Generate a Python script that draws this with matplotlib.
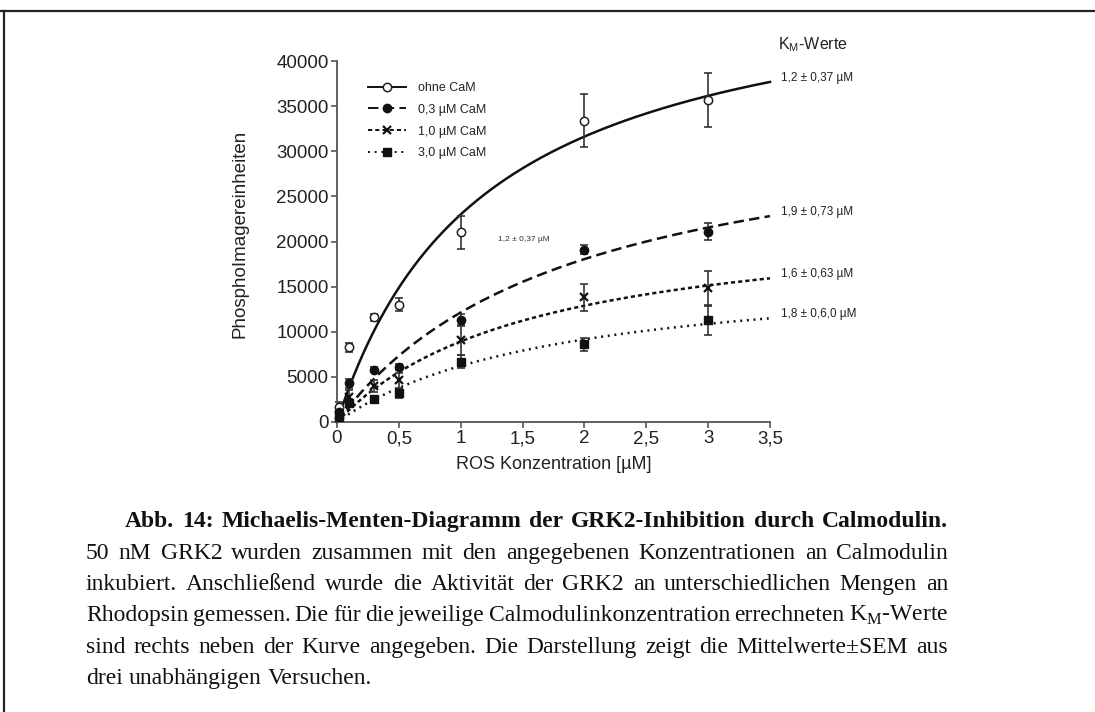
import matplotlib
matplotlib.use("Agg")
import matplotlib.pyplot as plt
import numpy as np
from matplotlib.lines import Line2D

plt.rcParams['font.family'] = ['Liberation Sans', 'DejaVu Sans']
plt.rcParams['lines.scale_dashes'] = False

W, H = 1095, 712

# ---------------- data ----------------
conc = [0.02, 0.1, 0.3, 0.5, 1.0, 2.0, 3.0]

ohne_cam = [1700, 8300, 11600, 13000, 21000, 33400, 35700]
ohne_err = [500, 500, 400, 700, 1800, 2950, 3000]

cam_03 = [1100, 4300, 5800, 6100, 11300, 19100, 21100]
cam_03_err = [400, 500, 300, 300, 700, 500, 900]

cam_10 = [800, 2800, 4000, 4600, 9100, 13800, 14800]
cam_10_err = [300, 800, 700, 800, 1700, 1500, 1900]

cam_30 = [500, 2100, 2600, 3200, 6700, 8600, 11300]
cam_30_err = [300, 400, 300, 500, 700, 700, 1650]

# Michaelis-Menten fit parameters
fit_km = [1.2, 1.9, 1.6, 1.8]
fit_vmax = [50600, 35200, 23200, 17400]

series_labels = ['ohne CaM', '0,3 µM CaM', '1,0 µM CaM', '3,0 µM CaM']
km_labels = ['1,2 ± 0,37 µM', '1,9 ± 0,73 µM', '1,6 ± 0,63 µM', '1,8 ± 0,6,0 µM']

xticks = [0, 0.5, 1, 1.5, 2, 2.5, 3, 3.5]
xticklabels = ['0', '0,5', '1', '1,5', '2', '2,5', '3', '3,5']
yticks = [0, 5000, 10000, 15000, 20000, 25000, 30000, 35000, 40000]

caption_head = "Abb. 14: Michaelis-Menten-Diagramm der GRK2-Inhibition durch Calmodulin."
caption_lines = [
    "50 nM GRK2 wurden zusammen mit den angegebenen Konzentrationen an Calmodulin",
    "inkubiert. Anschließend wurde die Aktivität der GRK2 an unterschiedlichen Mengen an",
    "Rhodopsin gemessen. Die für die jeweilige Calmodulinkonzentration errechneten K$_\\mathregular{M}$-Werte",
    "sind rechts neben der Kurve angegeben. Die Darstellung zeigt die Mittelwerte±SEM aus",
    "drei unabhängigen Versuchen.",
]

# ---------------- figure ----------------
fig = plt.figure(figsize=(W / 100, H / 100), dpi=100)
fig.patch.set_facecolor('white')

# frame lines of the page box
fig.add_artist(Line2D([0, 1], [1 - 11 / H, 1 - 11 / H], transform=fig.transFigure,
                      color='#222222', lw=1.6))
fig.add_artist(Line2D([4 / W, 4 / W], [0, 1 - 11 / H], transform=fig.transFigure,
                      color='#222222', lw=1.6))

ax = fig.add_axes([337 / W, (H - 422) / H, 433 / W, 361 / H])
ax.set_xlim(0, 3.5)
ax.set_ylim(0, 40000)

axis_col = '#555555'
for s in ['top', 'right']:
    ax.spines[s].set_visible(False)
for s in ['left', 'bottom']:
    ax.spines[s].set_color(axis_col)
    ax.spines[s].set_linewidth(1.3)
ax.tick_params(direction='out', length=4, width=1.2, color=axis_col,
               labelsize=13.5, labelcolor='#222222', pad=2)
ax.set_xticks(xticks)
ax.set_xticklabels(xticklabels)
ax.set_yticks(yticks)
ax.set_yticklabels([str(v) for v in yticks])

ax.set_xlabel('ROS Konzentration [µM]', fontsize=13, color='#222222', labelpad=6)
ax.set_ylabel('PhosphoImagereinheiten', fontsize=13.5, color='#222222')
ax.yaxis.set_label_coords(-0.205, 0.52)

# fitted curves
xf = np.linspace(0, 3.5, 300)
line_styles = [
    dict(linestyle='-'),
    dict(linestyle=(0, (7.5, 3.8))),
    dict(linestyle=(0, (3.0, 2.2))),
    dict(linestyle=(0, (1.4, 3.4))),
]
series = [ohne_cam, cam_03, cam_10, cam_30]
errors = [ohne_err, cam_03_err, cam_10_err, cam_30_err]
markers = [
    dict(marker='o', mfc='white', mec='#222222', ms=6, mew=1.1),
    dict(marker='o', mfc='#111111', mec='#111111', ms=6),
    dict(marker='x', mfc='#111111', mec='#111111', ms=6, mew=1.6),
    dict(marker='s', mfc='#111111', mec='#111111', ms=5.5),
]

for i in range(4):
    yf = fit_vmax[i] * xf / (fit_km[i] + xf)
    ax.plot(xf, yf, color='#111111', lw=1.8, clip_on=False, **line_styles[i])
    ax.errorbar(conc, series[i], yerr=errors[i], fmt='none', ecolor='#333333',
                elinewidth=1.2, capsize=3, capthick=1.2, clip_on=False)
    ax.plot(conc, series[i], linestyle='none', clip_on=False, zorder=4, **markers[i])
    yend = fit_vmax[i] * 3.5 / (fit_km[i] + 3.5)
    ax.annotate(km_labels[i], xy=(3.5, yend), xytext=(8, 3), textcoords='offset points',
                fontsize=8.5, color='#222222', va='center', ha='left',
                annotation_clip=False)

ax.annotate('K$_\\mathregular{M}$-Werte', xy=(778 / W, 1 - 45 / H), xycoords='figure fraction',
            fontsize=11.5, color='#222222', va='center', ha='left')
ax.annotate('1,2 ± 0,37 µM', xy=(498 / W, 1 - 240 / H), xycoords='figure fraction',
            fontsize=6, color='#333333', va='center', ha='left')

# legend
handles = []
for i in range(4):
    handles.append(Line2D([], [], color='#111111', lw=1.4, **line_styles[i], **markers[i]))
leg = ax.legend(handles, series_labels, loc='upper left',
                bbox_to_anchor=((368 - 337) / 433, (422 - 82) / 361),
                frameon=False, fontsize=9, handlelength=3.0, handletextpad=1.0,
                labelspacing=0.78, borderpad=0, borderaxespad=0)
for t in leg.get_texts():
    t.set_color('#222222')

# ---------------- caption (justified) ----------------
fig.canvas.draw()
renderer = fig.canvas.get_renderer()


def place_line(text, x0, x1, y_base, justify, **kw):
    words = text.split(' ')
    ts = [fig.text(0, 1 - y_base / H, w, ha='left', va='baseline', **kw) for w in words]
    ws = [t.get_window_extent(renderer).width for t in ts]
    space = 0.25 * kw.get('fontsize', 16) * 100 / 72
    if justify and len(ws) > 1:
        gap = (x1 - x0 - sum(ws)) / (len(ws) - 1)
    else:
        gap = space
    x = x0
    for t, w in zip(ts, ws):
        t.set_x(x / W)
        x += w + gap


serif = ['Liberation Serif', 'DejaVu Serif']
place_line(caption_head, 125, 948, 527, True, family=serif, fontsize=17,
           fontweight='bold', color='#111111')
baselines = [559, 590, 621, 653, 684]
for j, line in enumerate(caption_lines):
    place_line(line, 86, 948, baselines[j], j < len(caption_lines) - 1,
               family=serif, fontsize=17, color='#111111')

fig.savefig('out.png', dpi=100, facecolor='white')
